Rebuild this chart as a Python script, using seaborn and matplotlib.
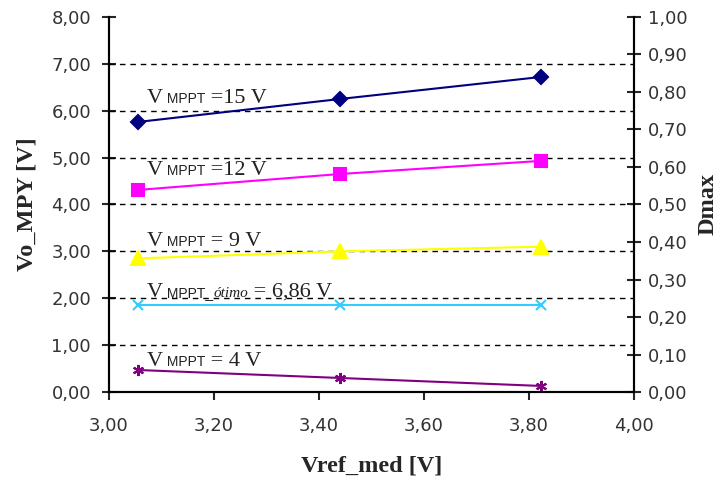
import matplotlib
matplotlib.use("Agg")
import matplotlib.pyplot as plt
import seaborn as sns
import pandas as pd
from matplotlib.offsetbox import TextArea, HPacker, AnnotationBbox

vref_med = [3.055, 3.44, 3.823]
v15 = [5.76, 6.25, 6.72]
v12 = [4.31, 4.65, 4.93]
v9 = [2.85, 3.00, 3.10]
v686 = [1.85, 1.85, 1.85]
v4 = [0.47, 0.30, 0.13]

# label pieces: (main "V", subscript, subscript italic part, rest)
label_parts = [
    ("V", "MPPT", "", " =15 V"),
    ("V", "MPPT", "", " =12 V"),
    ("V", "MPPT", "", " = 9 V"),
    ("V", "MPPT_", "ótimo", " = 6,86 V"),
    ("V", "MPPT", "", " = 4 V"),
]
label_y = [6.27, 4.72, 3.22, 2.13, 0.66]

x_ticks = [3.0, 3.2, 3.4, 3.6, 3.8, 4.0]
y_ticks = [0, 1, 2, 3, 4, 5, 6, 7, 8]
y2_ticks = [0.0, 0.1, 0.2, 0.3, 0.4, 0.5, 0.6, 0.7, 0.8, 0.9, 1.0]

sns.set_style("white")
plt.rcParams['font.family'] = ['DejaVu Sans']

fig = plt.figure(figsize=(7.22, 4.84), dpi=100)
ax = fig.add_axes([0.151, 0.19, 0.727, 0.775])
ax2 = ax.twinx()

styles = [
    (v15, '#000080', 'D', 7.5),
    (v12, '#FF00FF', 's', 8.5),
    (v9, '#FFFF00', '^', 9.5),
    (v686, '#33CCFF', 'x', 7),
    (v4, '#800080', (6, 2, 0), 8),
]
for vals, col, mk, ms in styles:
    df = pd.DataFrame({'x': vref_med, 'y': vals})
    sns.lineplot(data=df, x='x', y='y', ax=ax, color=col, marker=mk,
                 markersize=ms, markeredgecolor=col, markerfacecolor=col,
                 markeredgewidth=1.5, linewidth=1.5, zorder=3)

serif = dict(family='Liberation Serif', size=16, color='#222222')
sub = dict(family='Liberation Sans', size=10, color='#222222')
subit = dict(family='Liberation Serif', size=11, style='italic', color='#222222')
for (v, s, si, rest), ly in zip(label_parts, label_y):
    children = [TextArea(v, textprops=serif), TextArea(" " + s, textprops=sub)]
    if si:
        children.append(TextArea(si, textprops=subit))
    children.append(TextArea(rest, textprops=serif))
    pack = HPacker(children=children, align="baseline", pad=0, sep=0)
    ab = AnnotationBbox(pack, (3.072, ly), xycoords='data', box_alignment=(0, 0.5),
                        frameon=False, pad=0, zorder=4)
    ax.add_artist(ab)

for yv in y_ticks[1:-1]:
    ax.axhline(yv, color='black', linestyle=(0, (4, 3.5)), linewidth=1.0, zorder=1)

ax.set_xlim(3.0, 4.0)
ax.set_ylim(0, 8)
ax2.set_ylim(0, 1)
ax.set_xticks(x_ticks)
ax.set_yticks(y_ticks)
ax2.set_yticks(y2_ticks)
ax.set_xticklabels([f"{v:.2f}".replace('.', ',') for v in x_ticks])
ax.set_yticklabels([f"{v:.2f}".replace('.', ',') for v in y_ticks])
ax2.set_yticklabels([f"{v:.2f}".replace('.', ',') for v in y2_ticks])

for a in (ax, ax2):
    for s in a.spines.values():
        s.set_color('black')
        s.set_linewidth(1.5)
    a.spines['top'].set_visible(False)
ax.tick_params(axis='y', direction='inout', length=10, width=1.5, labelsize=13,
               pad=8, left=True, labelcolor='#333333')
ax.tick_params(axis='x', direction='out', length=6, width=1.5, labelsize=13,
               pad=12, bottom=True, labelcolor='#333333')
ax2.tick_params(axis='y', direction='inout', length=10, width=1.5, labelsize=13,
                pad=5, right=True, labelcolor='#333333')

lab = dict(fontsize=17.5, fontweight='bold', family='Liberation Serif')
ax.set_xlabel('Vref_med [V]', labelpad=15, **lab)
ax.set_ylabel('Vo_MPY [V]', labelpad=10, **lab)
ax2.set_ylabel('Dmax', labelpad=7, rotation=90, **lab)

fig.savefig('out.png', dpi=100)
